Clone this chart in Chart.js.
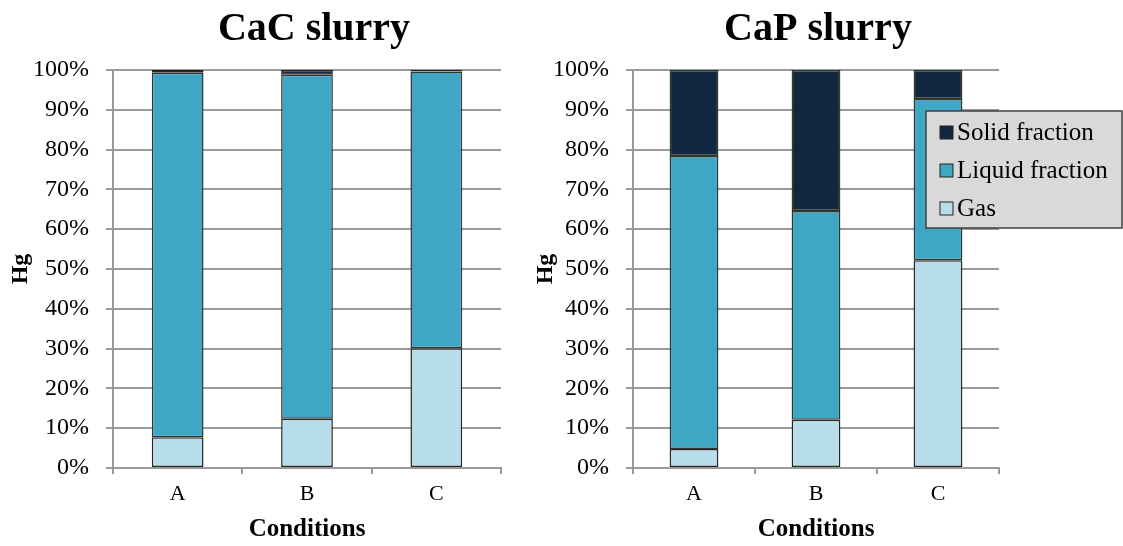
<!DOCTYPE html>
<html>
<head>
<meta charset="utf-8">
<script src="https://cdn.jsdelivr.net/npm/chart.js@4.4.1/dist/chart.umd.min.js"></script>
<style>
  html, body { margin: 0; padding: 0; background: #fff; }
  #wrap { position: relative; width: 1123px; height: 546px; overflow: hidden; }
  .panel { position: absolute; top: 0; height: 546px; }
  #leftBox { left: 0; width: 520px; }
  #rightBox { left: 525px; width: 598px; }
</style>
</head>
<body>
<div id="wrap">
  <div class="panel" id="leftBox"><canvas id="cacChart"></canvas></div>
  <div class="panel" id="rightBox"><canvas id="capChart"></canvas></div>
</div>
<script>
// Data (percent of Hg)
const categories = ['A', 'B', 'C'];
const seriesNames = ['Gas', 'Liquid fraction', 'Solid fraction'];
const cacGas = [7.7, 12.4, 30.1];
const cacLiquid = [91.6, 86.4, 69.5];
const cacSolid = [0.7, 1.2, 0.4];
const capGas = [4.8, 12.1, 52.2];
const capLiquid = [73.6, 52.5, 40.5];
const capSolid = [21.6, 35.4, 7.3];
const yTicks = [0, 10, 20, 30, 40, 50, 60, 70, 80, 90, 100];

const colors = { gas: '#b7dde8', liquid: '#3fa6c4', solid: '#13263f' };
const serif = "'Liberation Serif', 'Times New Roman', serif";
const gridGray = '#9a9a9a';

// Title centred over the plot area
const panelTitle = {
  id: 'panelTitle',
  afterDraw(chart, args, opts) {
    const { ctx, chartArea } = chart;
    ctx.save();
    ctx.font = 'bold 40px ' + serif;
    ctx.fillStyle = '#000';
    ctx.textAlign = 'center';
    ctx.textBaseline = 'middle';
    ctx.fillText(opts.text, (chartArea.left + chartArea.right) / 2 + (opts.dx || 0), 30);
    ctx.restore();
  }
};

// Boxed legend that sits over the right panel, like the original
const boxLegend = {
  id: 'boxLegend',
  afterDraw(chart, args, opts) {
    if (!opts.show) return;
    const ctx = chart.ctx;
    const x = 401, y = 111, w = 196, h = 117;
    ctx.save();
    ctx.fillStyle = '#d9d9d9';
    ctx.fillRect(x, y, w, h);
    ctx.strokeStyle = '#404040';
    ctx.lineWidth = 1.5;
    ctx.strokeRect(x, y, w, h);
    const sets = chart.data.datasets.slice().reverse();
    ctx.font = '25px ' + serif;
    ctx.textBaseline = 'middle';
    sets.forEach((ds, i) => {
      const cy = y + 21 + i * 38;
      ctx.fillStyle = ds.backgroundColor;
      ctx.fillRect(x + 14, cy - 6, 13, 13);
      ctx.strokeStyle = '#222';
      ctx.lineWidth = 1;
      ctx.strokeRect(x + 14, cy - 6, 13, 13);
      ctx.fillStyle = '#000';
      ctx.fillText(ds.label, x + 31, cy + 1);
    });
    ctx.restore();
  }
};

function makeDatasets(gas, liquid, solid, solidBorder) {
  return [
    { label: seriesNames[0], data: gas, backgroundColor: colors.gas, borderColor: '#262626' },
    { label: seriesNames[1], data: liquid, backgroundColor: colors.liquid, borderColor: '#333' },
    { label: seriesNames[2], data: solid, backgroundColor: colors.solid, borderColor: solidBorder }
  ].map(d => Object.assign(d, { borderWidth: 1.5, borderSkipped: false, barPercentage: 0.4, categoryPercentage: 1 }));
}

function makeChart(id, title, titleDx, datasets, yWidth, padRight, showLegend) {
  return new Chart(document.getElementById(id), {
    type: 'bar',
    data: { labels: categories, datasets: datasets },
    plugins: [panelTitle, boxLegend],
    options: {
      responsive: true,
      maintainAspectRatio: false,
      animation: false,
      layout: { padding: { top: 70, right: padRight, bottom: 0, left: 0 } },
      plugins: {
        legend: { display: false },
        tooltip: { enabled: false },
        panelTitle: { text: title, dx: titleDx },
        boxLegend: { show: showLegend }
      },
      scales: {
        x: {
          stacked: true,
          afterFit: s => { s.height = 78; },
          grid: { offset: true, drawOnChartArea: false, color: gridGray, lineWidth: 2, tickLength: 6 },
          border: { color: gridGray, width: 2 },
          ticks: { color: '#000', font: { family: serif, size: 22 }, padding: 7 },
          title: { display: true, text: 'Conditions', color: '#000',
                   font: { family: serif, size: 25, weight: 'bold' }, padding: { top: 2, bottom: 1 } }
        },
        y: {
          stacked: true,
          min: 0,
          max: 100,
          afterFit: s => { s.width = yWidth; },
          afterBuildTicks: s => { s.ticks = yTicks.map(v => ({ value: v })); },
          grid: { color: gridGray, lineWidth: 2, tickLength: 7 },
          border: { color: gridGray, width: 2 },
          ticks: { color: '#000', font: { family: serif, size: 24 }, padding: 17,
                   callback: v => v + '%' },
          title: { display: true, text: 'Hg', color: '#000',
                   font: { family: serif, size: 24, weight: 'bold' }, padding: { top: 6, bottom: 0 } }
        }
      }
    }
  });
}

makeChart('cacChart', 'CaC slurry', 7, makeDatasets(cacGas, cacLiquid, cacSolid, '#222'), 113, 19, false);
makeChart('capChart', 'CaP slurry', 2, makeDatasets(capGas, capLiquid, capSolid, '#2e3a1e'), 108, 124, true);
</script>
</body>
</html>
